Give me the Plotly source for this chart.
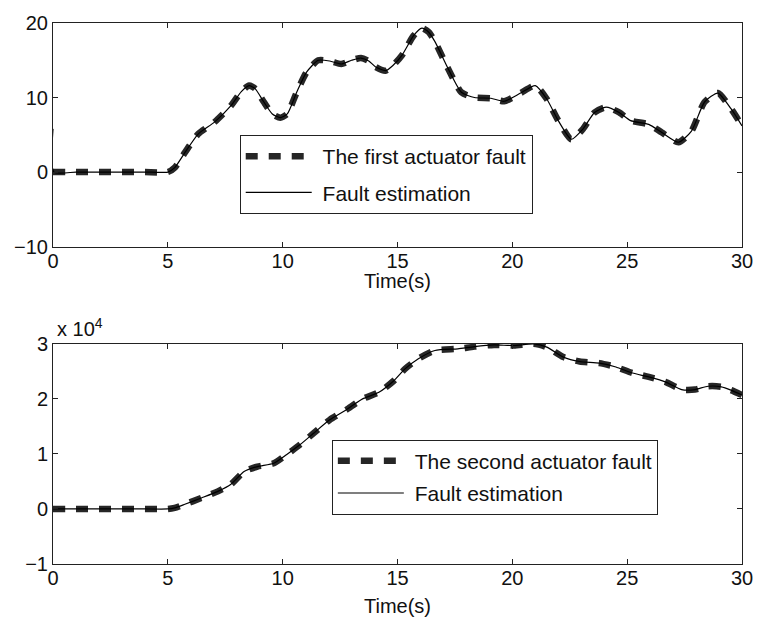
import plotly.graph_objects as go

# ---------------- data ----------------
time1 = [0, 1, 2, 3, 4, 5.0, 5.3, 5.74, 6.32, 7.03, 7.75, 8.2, 8.54, 8.8, 9.18, 9.55, 9.9,
         10.2, 10.61, 11.04, 11.55, 12.05, 12.55, 13.0, 13.41, 13.75, 14.05, 14.48, 14.8,
         15.2, 15.7, 16.06, 16.35, 16.63, 17.2, 17.78, 18.35, 19.07, 19.64, 20.36, 21.0,
         21.5, 22.0, 22.57, 23.08, 23.58, 24.08, 24.65, 25.15, 25.94, 26.51, 27.23, 27.8,
         28.37, 28.95, 29.52, 30]
fault1 = [0, 0, 0, 0, 0, 0, 0.6, 2.6, 5.1, 6.7, 8.9, 10.8, 11.6, 11.2, 9.4, 7.8, 7.3,
          7.8, 10.7, 13.4, 15.0, 14.9, 14.5, 15.0, 15.3, 14.9, 14.1, 13.6, 14.3,
          15.7, 18.3, 19.3, 18.8, 17.5, 13.9, 10.7, 10.0, 9.9, 9.5, 10.6, 11.6,
          9.8, 6.9, 4.4, 5.8, 8.0, 8.7, 8.0, 6.9, 6.4, 5.3, 4.0, 5.5,
          9.4, 10.6, 8.5, 6.2]
# estimation: same as fault after an initial transient at t = 0
est_time1 = [0, 0.04] + time1[1:]
est1 = [5.8, 0] + fault1[1:]

time2 = [0, 1, 2, 3, 4, 5.0, 5.3, 5.74, 6.46, 7.18, 7.75, 8.32, 8.9, 9.61, 10.18, 10.76,
         11.33, 12.05, 12.76, 13.48, 14.19, 14.84, 15.34, 15.91, 16.63, 17.63, 18.35,
         19.2, 20.07, 20.93, 21.5, 22.22, 22.93, 23.79, 24.51, 25.23, 25.94, 26.66,
         27.37, 27.95, 28.52, 29.1, 29.52, 30]
fault2 = [0, 0, 0, 0, 0, 0, 200, 850, 2000, 3200, 4500, 6800, 7700, 8300, 9900, 11700,
          13700, 16200, 18000, 20000, 21200, 23300, 25500, 27300, 28800, 29100, 29500,
          29800, 29700, 30000, 29400, 27600, 26800, 26500, 25800, 24700, 24000, 23100,
          21700, 21700, 22300, 22200, 21600, 20700]
est_time2 = list(time2)
est2 = list(fault2)

x_ticks = [0, 5, 10, 15, 20, 25, 30]
y1_ticks = [-10, 0, 10, 20]
y2_ticks = [-10000, 0, 10000, 20000, 30000]
y2_ticktext = ["\u22121", "0", "1", "2", "3"]

legend1_names = ["The first actuator fault", "Fault estimation"]
legend2_names = ["The second actuator fault", "Fault estimation"]

# ---------------- figure ----------------
FONT = "Liberation Sans, Arial, Helvetica, sans-serif"
NB = "\u00a0"  # small gap between legend sample and label
dash_style = dict(color="#262626", width=6.5, dash="12px,11px", shape="spline", smoothing=0.6)
solid_style = dict(color="black", width=1.2, shape="spline", smoothing=0.6)

fig = go.Figure()
fig.add_trace(go.Scatter(x=time1, y=fault1, mode="lines", name=NB + legend1_names[0],
                         line=dash_style, xaxis="x", yaxis="y", legend="legend",
                         legendgroup="a1"))
fig.add_trace(go.Scatter(x=est_time1, y=est1, mode="lines", name=NB + legend1_names[1],
                         line=solid_style, xaxis="x", yaxis="y", legend="legend",
                         legendgroup="b1"))
fig.add_trace(go.Scatter(x=time2, y=fault2, mode="lines", name=NB + legend2_names[0],
                         line=dash_style, xaxis="x2", yaxis="y2", legend="legend2",
                         legendgroup="a2"))
fig.add_trace(go.Scatter(x=est_time2, y=est2, mode="lines", name=NB + legend2_names[1],
                         line=solid_style, xaxis="x2", yaxis="y2", legend="legend2",
                         legendgroup="b2"))

axis_common = dict(showline=True, linecolor="#222", linewidth=1, mirror="ticks",
                   ticks="inside", ticklen=5, tickcolor="#222", showgrid=False,
                   zeroline=False, tickfont=dict(family=FONT, size=20, color="#111"))

legend_common = dict(xanchor="left", yanchor="top", bgcolor="white",
                     bordercolor="#222", borderwidth=1,
                     font=dict(family=FONT, size=21, color="#111"), itemwidth=66)

fig.update_layout(
    width=765, height=624,
    margin=dict(l=53, r=14, t=16, b=60),
    paper_bgcolor="white", plot_bgcolor="white",
    font=dict(family=FONT, size=20, color="#111"),
    xaxis=dict(domain=[0, 1], anchor="y", range=[0, 30], tickvals=x_ticks,
               ticklabelstandoff=-4, **axis_common),
    yaxis=dict(domain=[0.5867, 1.0], anchor="x", range=[-10, 20], tickvals=y1_ticks,
               **axis_common),
    xaxis2=dict(domain=[0, 1], anchor="y2", range=[0, 30], tickvals=x_ticks,
                ticklabelstandoff=-4, **axis_common),
    yaxis2=dict(domain=[0, 0.4069], anchor="x2", range=[-10000, 30000],
                tickvals=y2_ticks, ticktext=y2_ticktext, **axis_common),
    legend=dict(x=0.271, y=0.793, tracegroupgap=6, **legend_common),
    legend2=dict(x=0.4047, y=0.230, tracegroupgap=2, **legend_common),
    annotations=[
        dict(text="x 10<sup>4</sup>", xref="paper", yref="paper",
             x=0.003, y=0.4069, xanchor="left", yanchor="bottom", yshift=2,
             showarrow=False, font=dict(family=FONT, size=20, color="#111")),
        dict(text="Time(s)", xref="paper", yref="paper", x=0.5, y=0.5225,
             xanchor="center", yanchor="middle", showarrow=False,
             font=dict(family=FONT, size=20, color="#111")),
        dict(text="Time(s)", xref="paper", yref="paper", x=0.5, y=-0.0785,
             xanchor="center", yanchor="middle", showarrow=False,
             font=dict(family=FONT, size=20, color="#111")),
    ],
    showlegend=True,
)

fig.write_html("out.html")
